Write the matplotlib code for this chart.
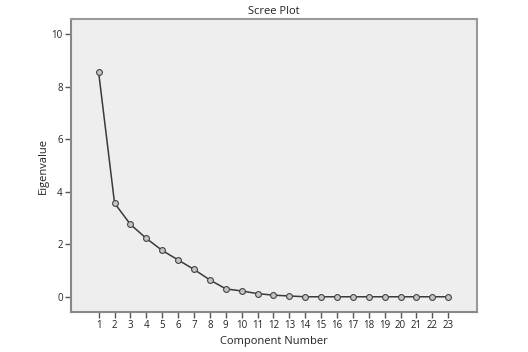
import matplotlib
matplotlib.use("Agg")
import matplotlib.pyplot as plt

components = list(range(1, 24))
eigenvalues = [8.54, 3.57, 2.76, 2.23, 1.77, 1.41, 1.05, 0.65, 0.31, 0.23, 0.13,
               0.07, 0.04, 0.01, 0.01, 0.01, 0.01, 0.01, 0.01, 0.01, 0.01, 0.01, 0.01]
y_ticks = [0, 2, 4, 6, 8, 10]

plt.rcParams['font.family'] = ['Open Sans', 'DejaVu Sans']

fig = plt.figure(figsize=(5.28, 3.52), dpi=100)
ax = fig.add_axes([0.1345, 0.1136, 0.9028 - 0.1345, 0.945 - 0.1136])
ax.set_facecolor('#eeeeee')

ax.plot(components, eigenvalues, color='#3a3a3a', linewidth=1.1,
        marker='o', markersize=4.2, markerfacecolor='#c4c4c4',
        markeredgecolor='#444444', markeredgewidth=0.8)

ax.set_xlim(-0.74, 24.79)
ax.set_ylim(-0.57, 10.56)
ax.set_xticks(components)
ax.set_xticklabels([str(c) for c in components])
ax.set_yticks(y_ticks)
ax.set_yticklabels([str(t) for t in y_ticks])

for s in ['left', 'bottom']:
    ax.spines[s].set_color('#888888')
    ax.spines[s].set_linewidth(1.5)
for s in ['top', 'right']:
    ax.spines[s].set_color('#999999')
    ax.spines[s].set_linewidth(1.5)

ax.tick_params(axis='both', direction='out', length=4, width=1,
               color='#555555', labelsize=7, labelcolor='#222222', pad=2)

ax.set_xlabel('Component Number', fontsize=8, color='#222222', labelpad=3)
ax.set_ylabel('Eigenvalue', fontsize=8, color='#222222', labelpad=2)
ax.set_title('Scree Plot', fontsize=8, color='#222222', pad=4)

fig.savefig('out.png', dpi=100, facecolor='white')
